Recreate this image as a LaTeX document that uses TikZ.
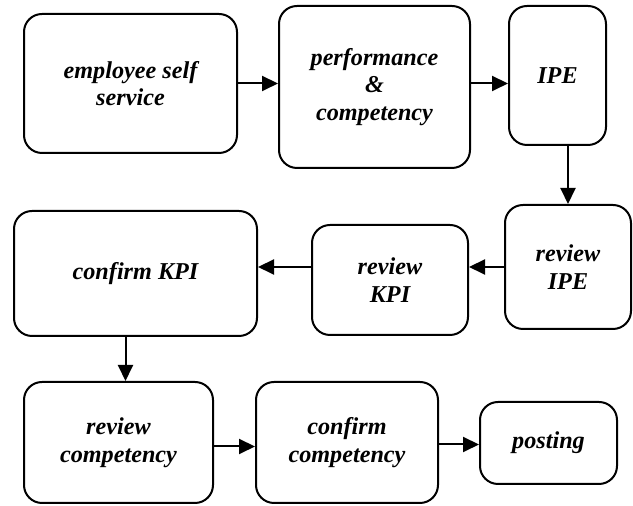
\documentclass[tikz,border=0pt]{standalone}
\usepackage{fontspec}
\setmainfont{Liberation Serif}
\usetikzlibrary{arrows.meta, positioning, calc}

\begin{document}
\begin{tikzpicture}[x=0.5pt, y=-0.5pt,
    box/.style={draw, line width=1pt, rounded corners=9pt, align=center, inner sep=2pt,
        font=\fontsize{12.1}{13.8}\selectfont\bfseries\itshape},
    flow/.style={line width=1pt, -{Triangle[length=8pt, width=7.5pt]}}]
    \useasboundingbox (0,0) rectangle (633,506);
    \node[box, minimum width=106.5pt, minimum height=69.5pt] (ess) at (130.5,83.5) {employee self\\service};
    \node[box, minimum width=95.5pt, minimum height=81pt] (perf) at (374.5,87) {performance\\\&\\competency};
    \node[box, minimum width=48.5pt, minimum height=69.5pt] (ipe) at (557.5,75.5) {IPE};
    \node[box, minimum width=63pt, minimum height=62pt] (ripe) at (568,267) {review\\IPE};
    \node[box, minimum width=78pt, minimum height=55pt] (rkpi) at (390,280) {review\\KPI};
    \node[box, minimum width=121.5pt, minimum height=62.5pt] (ckpi) at (135.5,273.5) {confirm KPI};
    \node[box, minimum width=94.5pt, minimum height=60.5pt] (rcomp) at (118.5,442.5) {review\\competency};
    \node[box, minimum width=91pt, minimum height=60.5pt] (ccomp) at (347,442.5) {confirm\\competency};
    \node[box, minimum width=68.5pt, minimum height=41pt] (post) at (548.5,443) {posting};

    \draw[flow] (ess.east) -- (ess.east -| perf.west);
    \draw[flow] (ess.east -| perf.east) -- (ess.east -| ipe.west);
    \draw[flow] (ipe.south -| ripe.north) -- (ripe.north);
    \draw[flow] (ripe.west) -- (ripe.west -| rkpi.east);
    \draw[flow] (ripe.west -| rkpi.west) -- (ripe.west -| ckpi.east);
    \draw[flow] ([xshift=-5pt]ckpi.south) -- ([xshift=-5pt]ckpi.south |- rcomp.north);
    \draw[flow] ([yshift=-2pt]rcomp.east) -- ([yshift=-2pt]rcomp.east -| ccomp.west);
    \draw[flow] ([yshift=-1pt]ccomp.east) -- ([yshift=-1pt]ccomp.east -| post.west);
\end{tikzpicture}
\end{document}
